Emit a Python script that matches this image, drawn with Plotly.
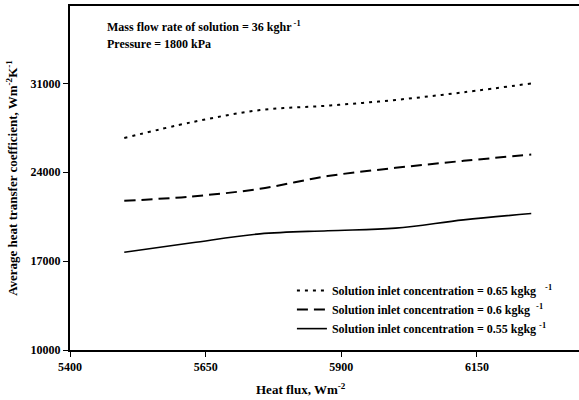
import plotly.graph_objects as go

heat_flux = [5500, 5625, 5750, 5875, 6000, 6125, 6250]
htc_065 = [26700, 27950, 28900, 29250, 29700, 30300, 31000]
htc_060 = [21750, 22100, 22700, 23700, 24350, 24900, 25400]
htc_055 = [17700, 18450, 19150, 19400, 19600, 20250, 20750]

names = [
    "Solution inlet concentration = 0.65 kgkg   <sup>-1</sup>",
    "Solution inlet concentration = 0.6 kgkg  <sup>-1</sup>",
    "Solution inlet concentration = 0.55 kgkg <sup>-1</sup>",
]
x_ticks = [5400, 5650, 5900, 6150]
y_ticks = [10000, 17000, 24000, 31000]

FONT = "Liberation Serif"

def f(size):
    return dict(family=FONT, size=size, color="black", weight="bold")

fig = go.Figure()
fig.add_trace(go.Scatter(x=heat_flux, y=htc_065, mode="lines", name=names[0],
                         line=dict(color="black", width=2, dash="3px,5px", shape="spline")))
fig.add_trace(go.Scatter(x=heat_flux, y=htc_060, mode="lines", name=names[1],
                         line=dict(color="black", width=2, dash="11px,6px", shape="spline")))
fig.add_trace(go.Scatter(x=heat_flux, y=htc_055, mode="lines", name=names[2],
                         line=dict(color="black", width=1.6, shape="spline")))

fig.update_layout(
    width=579, height=400,
    margin=dict(l=70, r=0, t=6, b=50, autoexpand=False),
    paper_bgcolor="white", plot_bgcolor="white",
    font=f(12),
    showlegend=True,
    legend=dict(x=0.436, y=0.02, xanchor="left", yanchor="bottom",
                bgcolor="rgba(0,0,0,0)", font=f(12),
                itemwidth=30, tracegroupgap=0),
    xaxis=dict(range=[5400, 6338], tickvals=x_ticks, tickformat="d",
               showgrid=False, zeroline=False,
               showline=True, linecolor="black", linewidth=2, mirror=True,
               ticks="outside", ticklen=5, tickcolor="black", tickwidth=1,
               tickfont=f(12)),
    yaxis=dict(range=[10000, 37100], tickvals=y_ticks, tickformat="d",
               showgrid=False, zeroline=False,
               showline=True, linecolor="black", linewidth=2,
               ticks="outside", ticklen=5, tickcolor="black", tickwidth=1,
               tickfont=f(12), automargin=False,
               title=dict(text="Average heat transfer coefficient, Wm<sup>-2</sup>K<sup>-1</sup>",
                          font=f(13), standoff=10)),
    annotations=[
        dict(text="Heat flux, Wm<sup>-2</sup>", xref="paper", yref="paper",
             x=0.454, y=-0.085, yanchor="top", showarrow=False, font=f(13)),
        dict(text="Mass flow rate of solution = 36 kghr<sup> -1</sup>", xref="paper", yref="paper",
             x=0.069, y=0.939, xanchor="left", yanchor="middle", showarrow=False, font=f(12)),
        dict(text="Pressure = 1800 kPa", xref="paper", yref="paper",
             x=0.069, y=0.890, xanchor="left", yanchor="middle", showarrow=False, font=f(12)),
    ],
)

fig.write_html("out.html", config={"displayModeBar": False},
               post_script="document.body.style.margin='0';document.body.style.padding='0';")
